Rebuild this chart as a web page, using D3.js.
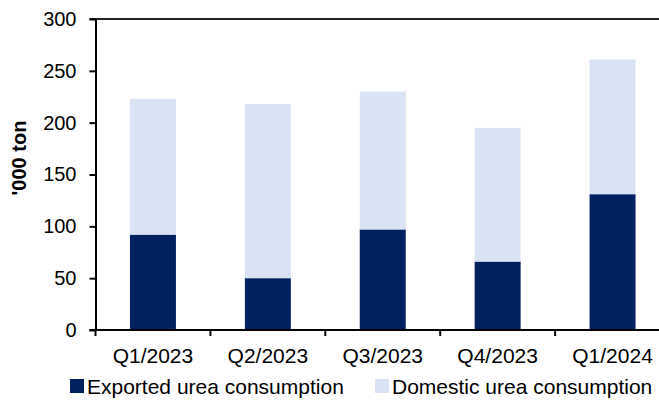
<!DOCTYPE html>
<html>
<head>
<meta charset="utf-8">
<script src="https://cdn.jsdelivr.net/npm/d3@7"></script>
<style>
  html, body { margin: 0; padding: 0; background: #fff; }
  svg { display: block; font-family: "Liberation Sans", Arial, sans-serif; }
</style>
</head>
<body>
<svg id="chart" width="659" height="403"></svg>
<script>
// Quarterly urea consumption, '000 ton
const quarters = ["Q1/2023", "Q2/2023", "Q3/2023", "Q4/2023", "Q1/2024"];
const exported = [92, 50, 97, 66, 131];
const total = [223, 218, 230, 195, 261];
const domestic = total.map((t, i) => t - exported[i]);
const yTicks = [0, 50, 100, 150, 200, 250, 300];
const seriesNames = ["Exported urea consumption", "Domestic urea consumption"];
const seriesColors = ["#002060", "#DAE3F3"];

const svg = d3.select("#chart");
const plotLeft = 95.5, plotTop = 19, plotBottom = 330;
const step = 114.9;
const plotRight = plotLeft + step * quarters.length;

const x = d3.scaleBand().domain(quarters).range([plotLeft, plotRight]).paddingInner(0.6).paddingOuter(0.3);
const y = d3.scaleLinear().domain([0, 300]).range([plotBottom, plotTop]);

const rows = quarters.map((q, i) => ({ q, exported: exported[i], domestic: domestic[i] }));
const stack = d3.stack().keys(["exported", "domestic"])(rows);

// stacked bars
svg.append("g").selectAll("g").data(stack).join("g")
  .attr("fill", (d, i) => seriesColors[i])
  .selectAll("rect").data(d => d).join("rect")
  .attr("x", d => x(d.data.q))
  .attr("width", x.bandwidth())
  .attr("y", d => y(d[1]))
  .attr("height", d => y(d[0]) - y(d[1]));

// top frame line
svg.append("line")
  .attr("x1", plotLeft - 6).attr("x2", 659)
  .attr("y1", y(300)).attr("y2", y(300))
  .attr("stroke", "#222").attr("stroke-width", 2);

// y axis
const yAxis = svg.append("g").attr("transform", `translate(${plotLeft},0)`)
  .call(d3.axisLeft(y).tickValues(yTicks).tickSize(6).tickPadding(13).tickSizeOuter(0));
yAxis.select(".domain").attr("stroke", "#000").attr("stroke-width", 2);
yAxis.selectAll(".tick line").attr("stroke", "#000").attr("stroke-width", 2);
yAxis.selectAll("text").attr("font-size", 20).attr("fill", "#000")
  .attr("font-family", "Liberation Sans, Arial, sans-serif");

// x axis with tick marks between categories
const xAxisG = svg.append("g").attr("transform", `translate(0,${plotBottom})`);
xAxisG.append("line").attr("x1", plotLeft - 6).attr("x2", 659)
  .attr("stroke", "#000").attr("stroke-width", 2);
xAxisG.selectAll("line.sep").data(quarters).join("line").attr("class", "sep")
  .attr("x1", (d, i) => plotLeft + i * step).attr("x2", (d, i) => plotLeft + i * step)
  .attr("y1", 0).attr("y2", 6)
  .attr("stroke", "#000").attr("stroke-width", 2);
xAxisG.selectAll("text").data(quarters).join("text")
  .attr("x", d => x(d) + x.bandwidth() / 2)
  .attr("y", 33)
  .attr("text-anchor", "middle")
  .attr("font-size", 21).attr("fill", "#000")
  .text(d => d);

// y axis title
svg.append("text")
  .attr("transform", "translate(26,158) rotate(-90)")
  .attr("text-anchor", "middle")
  .attr("font-size", 20).attr("font-weight", "bold").attr("fill", "#000")
  .text("'000 ton");

// legend
const legendX = [70, 375];
const legend = svg.append("g").selectAll("g").data(seriesNames).join("g")
  .attr("transform", (d, i) => `translate(${legendX[i]},379)`);
legend.append("rect").attr("width", 14).attr("height", 14)
  .attr("fill", (d, i) => seriesColors[i]);
legend.append("text").attr("x", 17).attr("y", 15)
  .attr("font-size", 21).attr("fill", "#000")
  .text(d => d);
</script>
</body>
</html>
